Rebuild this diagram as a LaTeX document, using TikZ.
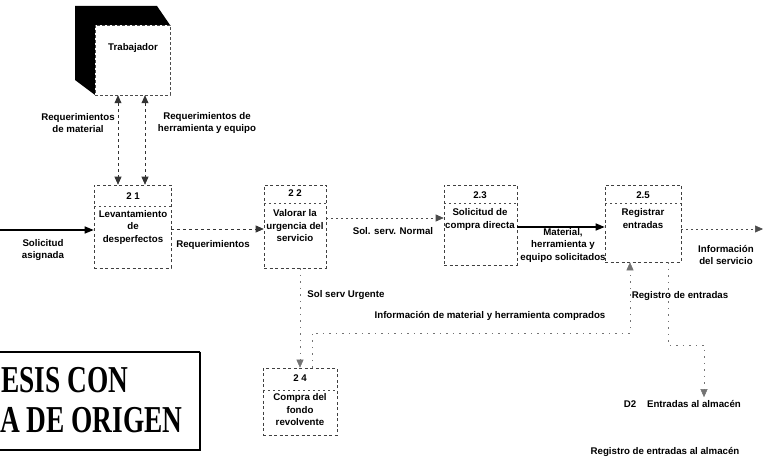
\documentclass[tikz,border=0pt]{standalone}
\usepackage{fontspec}
\usepackage{graphicx}
\setmainfont{Liberation Sans}
\newfontfamily\stampfont{Liberation Serif}
\usetikzlibrary{arrows.meta}
\begin{document}
\begin{tikzpicture}[x=1pt,y=-1pt,
  txt/.style={font=\bfseries\fontsize{9.7}{12.5}\selectfont, align=center, inner sep=0pt},
  proc/.style={draw=black!75, line width=0.6pt, dash pattern=on 3pt off 2.5pt, inner sep=0pt},
  divline/.style={draw=black!70, line width=0.5pt, dash pattern=on 2pt off 3pt},
  tip/.style={-{Triangle[length=8pt,width=7pt]}},
  solidflow/.style={draw=black, line width=1.3pt, -{Triangle[length=9pt,width=7pt]}},
  dashflow/.style={draw=black!80, line width=0.7pt, dash pattern=on 3pt off 3pt, tip},
  dotflow/.style={draw=black!70, line width=0.6pt, dash pattern=on 1.5pt off 3.5pt, tip},
  fadeflow/.style={draw=black!55, line width=0.5pt, dash pattern=on 1.5pt off 5pt, tip},
  stamp/.style={font=\stampfont\bfseries\fontsize{38}{38}\selectfont, inner sep=0pt, anchor=base west}
]
\useasboundingbox (0,0) rectangle (764,468);

% ---- External entity: Trabajador
\fill[black] (75,6) -- (157,6) -- (170,25) -- (95,25) -- (95,95) -- (75,80) -- cycle;
\node[fill=white, draw=black!70, line width=0.5pt, dash pattern=on 3pt off 2pt,
      minimum width=75, minimum height=70, inner sep=0pt] (trab) at (132.5,60) {};
\node[txt] (trabt) at (133,48) {Trabajador};

% ---- Processes
\node[proc, minimum width=77, minimum height=83] (p21) at (132.5,226.5) {};
\draw[divline] (94,206) -- (171,206);
\node[txt] (n21) at (133,196) {2 1};
\node[txt] (t21) at (133,227) {Levantamiento\\de\\desperfectos};

\node[proc, minimum width=62, minimum height=83] (p22) at (295,226.5) {};
\draw[divline] (264,203) -- (326,203);
\node[txt] (n22) at (295,193) {2 2};
\node[txt] (t22) at (295,226) {Valorar la\\urgencia del\\servicio};

\node[proc, minimum width=73, minimum height=80] (p23) at (480.5,225) {};
\draw[divline] (444,203) -- (517,203);
\node[txt] (n23) at (480,195) {2.3};
\node[txt] (t23) at (480,219.5) {Solicitud de\\compra directa};

\node[proc, minimum width=76, minimum height=77] (p25) at (643,223.5) {};
\draw[divline] (605,203) -- (681,203);
\node[txt] (n25) at (643,195) {2.5};
\node[txt] (t25) at (643,218.5) {Registrar\\entradas};

\node[proc, minimum width=74, minimum height=67] (p24) at (300,401.5) {};
\draw[divline] (263,390) -- (337,390);
\node[txt] (n24) at (300,378) {2 4};
\node[txt] (t24) at (300,410) {Compra del\\fondo\\revolvente};

% ---- Data store D2
\node[txt] (d2id) at (630,404) {D2};
\node[txt] (d2) at (694,404) {Entradas al almac\'en};

% ---- Flows
\coordinate (inS) at (0,230);
\draw[solidflow] (inS) -- (p21.west |- inS);
\node[txt] (l1) at (43,250) {Solicitud\\asignada};

\draw[dashflow, {Triangle[length=8pt,width=7pt]}-{Triangle[length=8pt,width=7pt]}]
  ([xshift=-14.5pt]trab.south) -- ([xshift=-14.5pt]p21.north);
\draw[dashflow, {Triangle[length=8pt,width=7pt]}-{Triangle[length=8pt,width=7pt]}]
  ([xshift=12.5pt]trab.south) -- ([xshift=12.5pt]p21.north);
\node[txt] (l2) at (78,123) {Requerimientos\\de material};
\node[txt] (l3) at (207,123) {Requerimientos de\\herramienta y equipo};

\draw[dashflow] ([yshift=-2.5pt]p21.east) -- ([yshift=-2.5pt]p22.west);
\node[txt] (l4) at (213,245) {Requerimientos};

\draw[dotflow] ([yshift=8.5pt]p22.east) -- ([yshift=7pt]p23.west);
\node[txt] (l5) at (393,231) {Sol. serv. Normal};

\draw[solidflow] ([yshift=-2pt]p23.east) -- ([yshift=-3.5pt]p25.west);
\node[txt] (l6) at (563,245) {Material,\\herramienta y\\equipo solicitados};

\coordinate (outE) at (763,229);
\draw[dotflow] ([yshift=-5.5pt]p25.east) -- (outE);
\node[txt] (l7) at (726,255) {Informaci\'on\\del servicio};

\draw[fadeflow] ([xshift=5pt]p22.south) -- (p24.north);
\node[txt] (l8) at (346,295) {Sol serv Urgente};

\coordinate (cA) at (630,333);
\draw[fadeflow] ([xshift=12pt]p24.north) |- (cA) -- (p25.south -| cA);
\node[txt] (l9) at (490,316) {Informaci\'on de material y herramienta comprados};

\coordinate (cB) at (668,345);
\draw[fadeflow] ([xshift=25pt]p25.south) -- (cB) -| ([xshift=10pt,yshift=3pt]d2.north);
\node[txt] (l10) at (680,296) {Registro de entradas};

\node[txt] (l11) at (665,452) {Registro de entradas al almac\'en};

% ---- Stamp
\draw[line width=1.1pt] (-5,352) -- (200,352);
\draw[line width=1.1pt] (-5,450) -- (200,450);
\draw[line width=1.8pt] (200,351.5) -- (200,450.5);
\node[stamp] (s1) at (1,392) {\scalebox{0.72}[1]{ESIS CON}};
\node[stamp] (s2) at (0,432) {\scalebox{0.72}[1]{A DE ORIGEN}};
\end{tikzpicture}
\end{document}
